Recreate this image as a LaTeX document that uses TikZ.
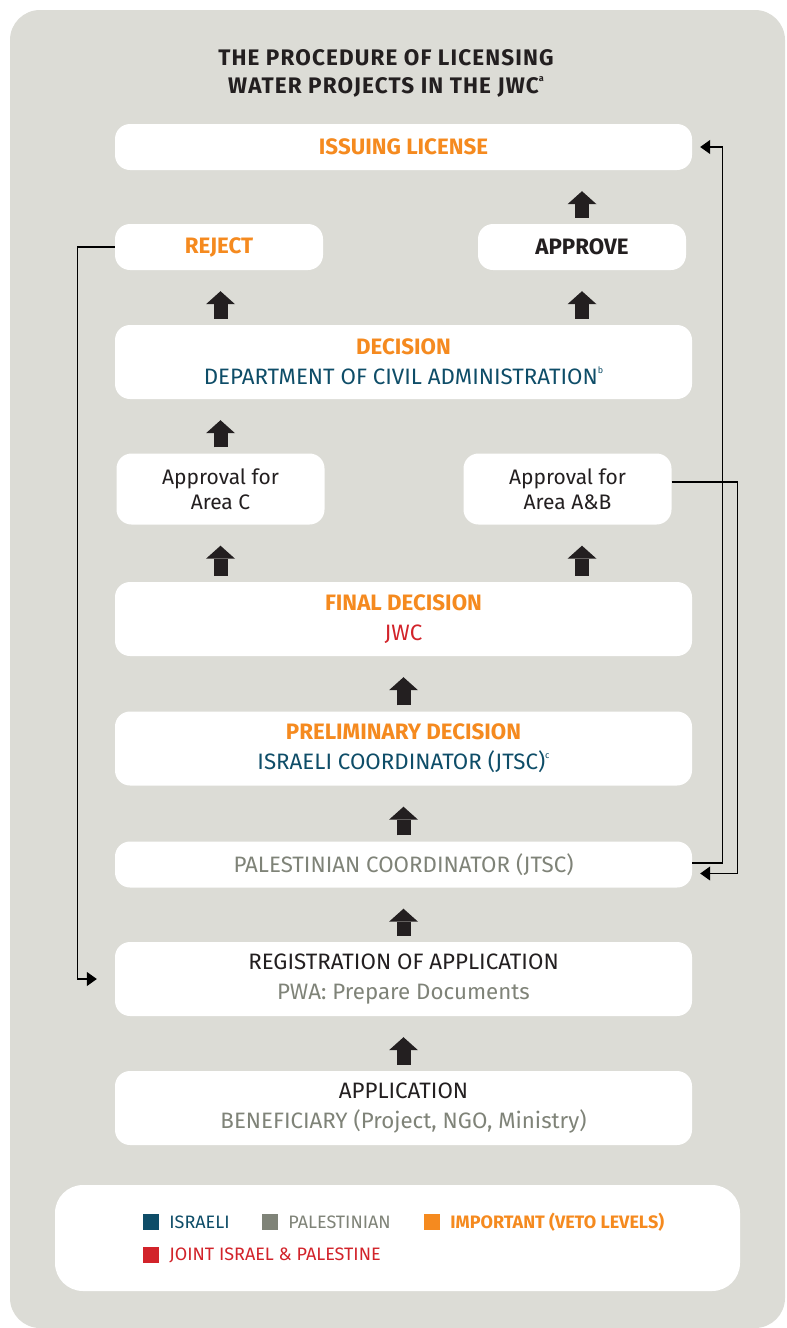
\documentclass[tikz,border=0pt]{standalone}
\usepackage{fontspec}
\setmainfont{Fira Sans}
\newfontfamily\titlefont[LetterSpace=5]{Fira Sans}
\usetikzlibrary{arrows.meta,positioning}
\definecolor{panelgrey}{HTML}{DCDCD6}
\definecolor{vetoorange}{HTML}{F58A1F}
\definecolor{israeliblue}{HTML}{0E4D68}
\definecolor{palgrey}{HTML}{7F8378}
\definecolor{jointred}{HTML}{D2232A}
\definecolor{inkdark}{HTML}{231F20}
\newcommand{\fnmark}[1]{\raisebox{0.5em}{\fontsize{9}{9}\selectfont #1}}

\begin{document}
\begin{tikzpicture}[x=1pt,y=-1pt,
  stage/.style={fill=white,rounded corners=15pt,minimum width=577pt,minimum height=46pt,
                inner sep=0pt,align=center,text=inkdark,font=\fontsize{22.3}{30}\selectfont},
  tallstage/.style={stage,minimum height=74pt},
  choice/.style={stage,minimum width=208pt,font=\fontsize{22.3}{25}\selectfont},
  tallchoice/.style={choice,minimum height=71pt,font=\fontsize{21}{25}\selectfont},
  upflow/.style={draw=inkdark,line width=14pt,-{Triangle[length=13pt,width=29pt,line width=0pt]},
                 shorten <=6pt,shorten >=21pt},
  link/.style={draw=black,line width=1.1pt,-{Triangle[length=10pt,width=14pt]}},
  legsq/.style={fill=#1,minimum size=16pt,inner sep=0pt},
  legtxt/.style={font=\fontsize{18}{20}\selectfont,inner sep=0pt},
]
  \useasboundingbox (0,0) rectangle (787,1328);
  \fill[panelgrey,rounded corners=30pt] (10,10) rectangle (785,1328);

  % Title
  \node[align=center,text=inkdark,font=\titlefont\bfseries\fontsize{22.5}{28}\selectfont] (title) at (386,73)
    {THE PROCEDURE OF LICENSING\\WATER PROJECTS IN THE JWC\fnmark{a}};

  % Stages
  \node[stage] (issue) at (403.5,147) {\bfseries\color{vetoorange}ISSUING LICENSE};
  \node[choice] (reject) at (219,247) {\bfseries\color{vetoorange}REJECT};
  \node[choice] (approve) at (582,247) {\bfseries APPROVE};
  \node[tallstage] (decision) at (403.5,362)
    {{\bfseries\color{vetoorange}DECISION}\\{\color{israeliblue}DEPARTMENT OF CIVIL ADMINISTRATION\fnmark{b}}};
  \node[tallchoice] (areac) at (220.5,489) {Approval for\\Area C};
  \node[tallchoice] (areaab) at (567.5,489) {Approval for\\Area A\&B};
  \node[tallstage] (final) at (403.5,619)
    {{\bfseries\color{vetoorange}FINAL DECISION}\\{\color{jointred}JWC}};
  \node[tallstage] (prelim) at (403.5,748.5)
    {{\bfseries\color{vetoorange}PRELIMINARY DECISION}\\{\color{israeliblue}ISRAELI COORDINATOR (JTSC)\fnmark{c}}};
  \node[stage] (pal) at (403.5,864.5) {\color{palgrey}PALESTINIAN COORDINATOR (JTSC)};
  \node[tallstage] (reg) at (403.5,979)
    {REGISTRATION OF APPLICATION\\{\color{palgrey}PWA: Prepare Documents}};
  \node[tallstage] (app) at (403.5,1108)
    {APPLICATION\\{\color{palgrey}BENEFICIARY (Project, NGO, Ministry)}};

  % Upward flow
  \draw[upflow] (app) -- (reg);
  \draw[upflow] (reg) -- (pal);
  \draw[upflow] (pal) -- (prelim);
  \draw[upflow] (prelim) -- (final);
  \draw[upflow] (final.north -| areac) -- (areac.south);
  \draw[upflow] (final.north -| approve) -- (areaab.south -| approve);
  \draw[upflow] (areac.north) -- (decision.south -| areac);
  \draw[upflow] (decision.north -| areac) -- (reject.south -| areac);
  \draw[upflow] (decision.north -| approve) -- (approve.south);
  \draw[upflow] (approve.north) -- (issue.south -| approve);

  % Side links
  \draw[link,shorten >=18pt] (reject.west) -- ++(-37,0) |- (reg.west);
  \draw[link,shorten >=8pt] ([yshift=1.5pt]pal.east) -- ++(30,0) |- (issue.east);
  \draw[link,shorten >=8pt] ([yshift=7pt]areaab.east) -- ++(66,0) |- ([yshift=-9pt]pal.east);

  % Legend
  \fill[white,rounded corners=28pt] (55,1185) rectangle (740,1291);
  \node[legsq=israeliblue] (sqisr) at (151,1222) {};
  \node[legtxt,text=israeliblue,right=10pt of sqisr] (txisr) {ISRAELI};
  \node[legsq=palgrey] (sqpal) at (270,1222) {};
  \node[legtxt,text=palgrey,right=10pt of sqpal] (txpal) {PALESTINIAN};
  \node[legsq=vetoorange] (sqveto) at (432,1222) {};
  \node[legtxt,text=vetoorange,font=\bfseries\fontsize{18}{20}\selectfont,right=10pt of sqveto] (txveto) {IMPORTANT (VETO LEVELS)};
  \node[legsq=jointred] (sqjoint) at (151,1255) {};
  \node[legtxt,text=jointred,right=10pt of sqjoint] (txjoint) {JOINT ISRAEL \& PALESTINE};
\end{tikzpicture}
\end{document}
